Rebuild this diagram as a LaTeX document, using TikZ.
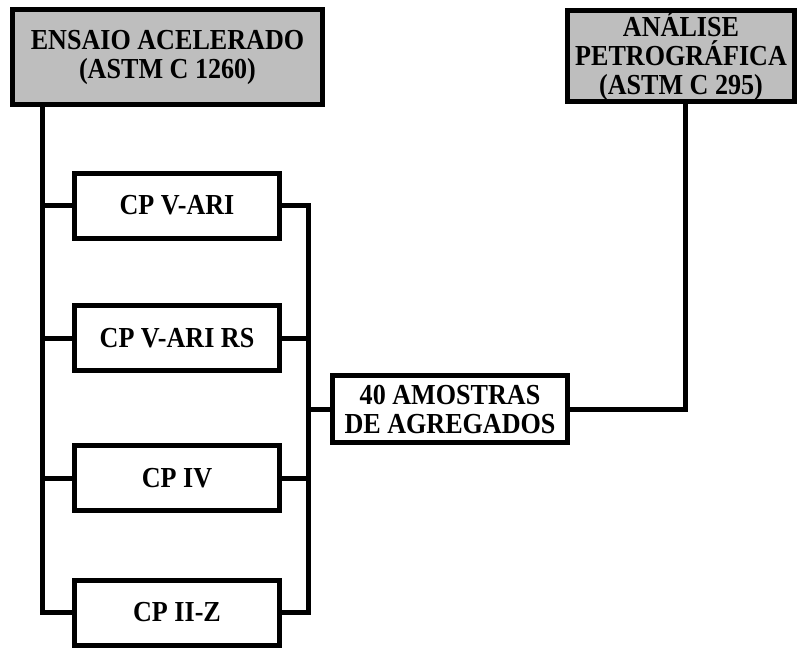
\documentclass[tikz,border=0pt]{standalone}
\usepackage{fontspec}
\setmainfont[FakeStretch=0.9]{Liberation Serif}
\definecolor{headgray}{RGB}{190,190,190}
\begin{document}
\begin{tikzpicture}[x=1pt,y=-1pt,
  every node/.style={inner sep=0pt, align=center,
    font=\fontsize{29}{29}\selectfont\bfseries},
  box/.style={draw=black, line width=5pt, fill=white},
  headbox/.style={box, fill=headgray},
  cpbox/.style={box, minimum width=205pt, minimum height=65pt},
  conn/.style={draw=black, line width=5pt, line join=miter}]
\useasboundingbox (0,0) rectangle (797,648);

% header boxes
\node[headbox, minimum width=310pt, minimum height=95pt] (ensaio) at (167.5,57)
  {ENSAIO ACELERADO\\(ASTM C 1260)};
\node[headbox, minimum width=227pt, minimum height=91pt] (analise) at (681,56)
  {ANÁLISE\\PETROGRÁFICA\\(ASTM C 295)};

% cement boxes
\node[cpbox] (cp1) at (177,205.5) {CP V-ARI};
\node[cpbox] (cp2) at (177,338) {CP V-ARI RS};
\node[cpbox] (cp3) at (177,478) {CP IV};
\node[cpbox] (cp4) at (177,612.5) {CP II-Z};

% aggregate samples
\node[box, minimum width=235pt, minimum height=67pt] (amostras) at (450,409)
  {40 AMOSTRAS\\DE AGREGADOS};

% left spine from the accelerated test to each cement
\foreach \c in {cp1,cp2,cp3,cp4}
  \draw[conn] ([xshift=32pt]ensaio.south west) |- (\c.west);

% right spine collecting the cements into the samples box
\foreach \c in {cp1,cp2,cp3,cp4}
  \draw[conn] (\c.east) -| ([xshift=-22pt]amostras.west);
\draw[conn] ([xshift=-22pt]amostras.west) -- (amostras.west);

% samples to petrographic analysis
\draw[conn] (amostras.east) -| ([xshift=4pt]analise.south);

% redraw boxes above the connector ends
\node[headbox, minimum width=310pt, minimum height=95pt] at (ensaio) {ENSAIO ACELERADO\\(ASTM C 1260)};
\node[headbox, minimum width=227pt, minimum height=91pt] at (analise) {ANÁLISE\\PETROGRÁFICA\\(ASTM C 295)};
\end{tikzpicture}
\end{document}
